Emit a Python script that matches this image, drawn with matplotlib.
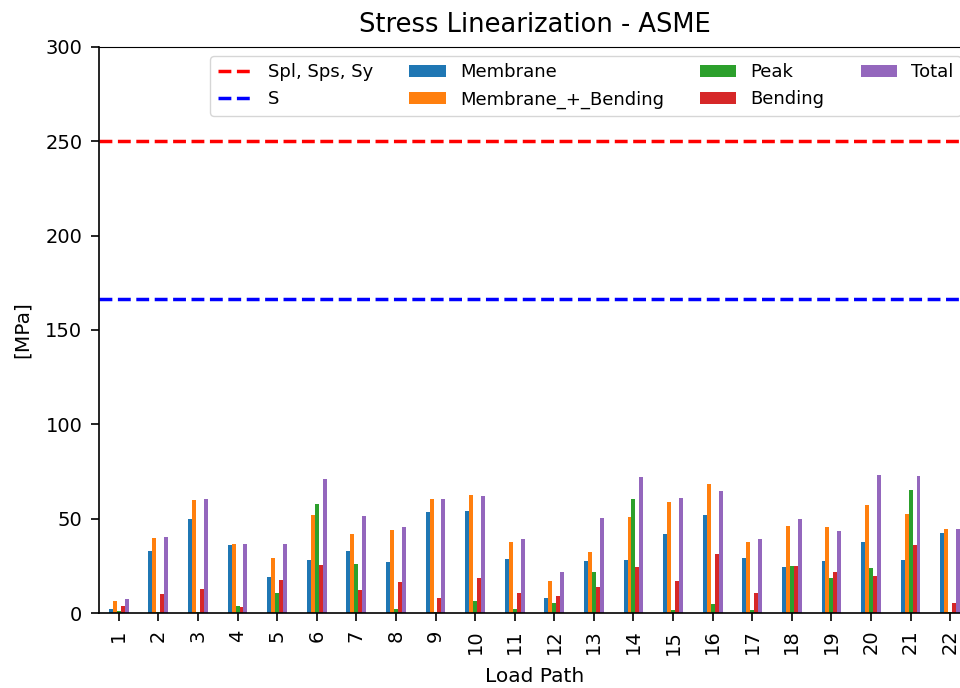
import matplotlib
matplotlib.use("Agg")
import matplotlib.pyplot as plt
import pandas as pd

load_paths = [str(i) for i in range(1, 23)]

membrane = [2.3, 32.7, 49.6, 36.0, 19.3, 27.9, 33.0, 27.0, 53.4, 53.9, 28.8,
            7.8, 27.4, 27.9, 41.9, 51.8, 29.0, 24.2, 27.4, 37.8, 28.3, 42.4]
membrane_bending = [6.3, 39.6, 59.9, 36.6, 29.1, 52.1, 42.0, 43.8, 60.4, 62.5, 37.8,
                    17.0, 32.5, 51.0, 58.8, 68.5, 37.6, 45.9, 45.4, 57.2, 52.6, 44.7]
peak = [1.2, 0.5, 0.4, 3.9, 10.8, 57.8, 26.1, 2.3, 0.4, 6.2, 1.9,
        5.5, 21.9, 60.6, 1.6, 4.9, 1.6, 25.1, 18.4, 23.8, 65.0, 0.4]
bending = [3.7, 9.9, 12.7, 3.0, 17.5, 25.4, 12.4, 16.6, 7.9, 18.7, 10.4,
           9.0, 13.6, 24.4, 17.0, 31.1, 10.6, 25.1, 21.7, 19.8, 35.9, 5.5]
total = [7.4, 40.5, 60.2, 36.7, 36.6, 71.0, 51.4, 45.6, 60.6, 62.0, 39.4,
         21.6, 50.3, 72.2, 60.8, 64.7, 39.4, 50.0, 43.5, 73.1, 72.6, 44.7]

s_limit = 250.0
s_allow = 250.0 * 2 / 3

df = pd.DataFrame({
    "Membrane": membrane,
    "Membrane_+_Bending": membrane_bending,
    "Peak": peak,
    "Bending": bending,
    "Total": total,
}, index=load_paths)

fig = plt.figure(figsize=(9.6, 6.88), dpi=100)
# axes run slightly past the right edge of the canvas
ax = fig.add_axes([0.1031, 0.109, 0.9073, 0.8227])

ax.axhline(s_limit, color="red", linestyle="--", linewidth=2.5, label="Spl, Sps, Sy")
ax.axhline(s_allow, color="blue", linestyle="--", linewidth=2.5, label="S")
df.plot.bar(ax=ax, legend=False)

ax.set_ylim(0, 300)
ax.set_title("Stress Linearization - ASME", fontsize=18.5, pad=11)
ax.set_xlabel("Load Path", fontsize=14.5, labelpad=9)
ax.set_ylabel("[MPa]", fontsize=14.5, labelpad=10)
ax.tick_params(axis="both", labelsize=14, length=6, width=1.2, pad=6)
for side in ("left", "bottom"):
    ax.spines[side].set_linewidth(1.2)
ax.legend(ncol=4, loc="upper right", fontsize=13)

fig.savefig("out.png", dpi=100)
